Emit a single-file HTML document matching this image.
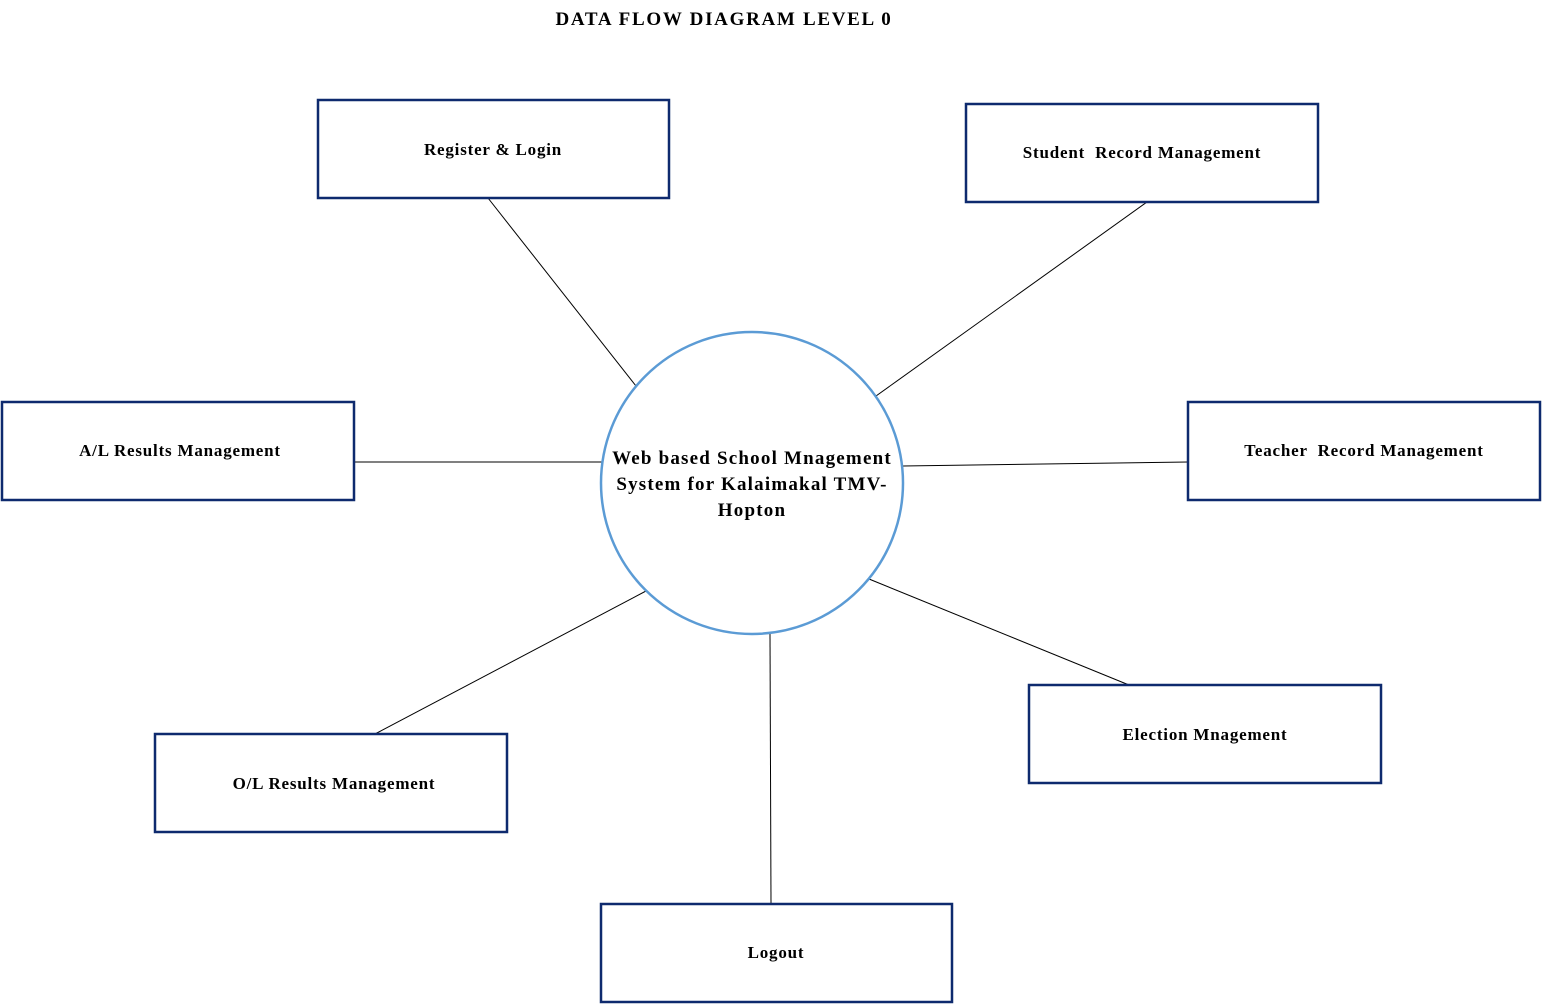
<!DOCTYPE html>
<html><head><meta charset="utf-8"><style>
html,body{margin:0;padding:0;background:#fff;}
svg{display:block;}
text{font-family:"Liberation Serif",serif;font-weight:bold;fill:#000;}
</style></head><body>
<svg width="1542" height="1004" viewBox="0 0 1542 1004" xmlns="http://www.w3.org/2000/svg">
<text x="724" y="25" font-size="19" letter-spacing="1.7" text-anchor="middle">DATA FLOW DIAGRAM LEVEL 0</text>
<g stroke="#000" stroke-width="1" fill="none">
<line x1="488" y1="198" x2="636" y2="386"/>
<line x1="1147" y1="202" x2="876" y2="396"/>
<line x1="354" y1="462" x2="602" y2="462"/>
<line x1="903" y1="466" x2="1188" y2="462"/>
<line x1="869" y1="579" x2="1129" y2="685"/>
<line x1="646" y1="591" x2="375" y2="734"/>
<line x1="770" y1="634" x2="771" y2="904"/>
</g>
<g stroke="#0e2a6e" stroke-width="2.5" fill="#fff">
<rect x="318" y="100" width="351" height="98"/>
<rect x="966" y="104" width="352" height="98"/>
<rect x="2" y="402" width="352" height="98"/>
<rect x="1188" y="402" width="352" height="98"/>
<rect x="1029" y="685" width="352" height="98"/>
<rect x="155" y="734" width="352" height="98"/>
<rect x="601" y="904" width="351" height="98"/>
</g>
<circle cx="752" cy="483" r="151" fill="#fff" stroke="#5b9bd5" stroke-width="2.5"/>
<g font-size="17" letter-spacing="0.8" text-anchor="middle">
<text x="493" y="155">Register &amp; Login</text>
<text x="1142" y="158" xml:space="preserve">Student  Record Management</text>
<text x="180" y="456">A/L Results Management</text>
<text x="1364" y="456" xml:space="preserve">Teacher  Record Management</text>
<text x="1205" y="740">Election Mnagement</text>
<text x="334" y="789">O/L Results Management</text>
<text x="776" y="958">Logout</text>
</g>
<g font-size="19" letter-spacing="1.2" text-anchor="middle">
<text x="752" y="464">Web based School Mnagement</text>
<text x="752" y="490">System for Kalaimakal TMV-</text>
<text x="752" y="516">Hopton</text>
</g>
</svg>
</body></html>
